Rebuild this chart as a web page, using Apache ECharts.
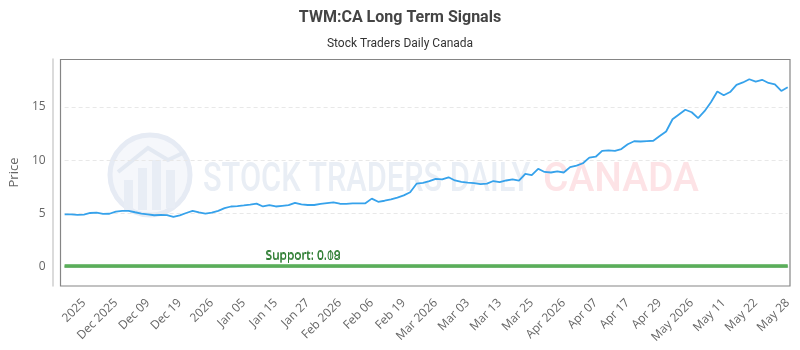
<!DOCTYPE html>
<html>
<head>
<meta charset="utf-8">
<script src="https://cdn.jsdelivr.net/npm/echarts@6/dist/echarts.min.js"></script>
<style>
  html, body { margin: 0; padding: 0; background: #fff; }
  #chart { width: 800px; height: 350px; }
</style>
</head>
<body>
<div id="chart"></div>
<script>

// closing prices, one per trading day
var prices = [
    4.93, 4.92, 4.88, 4.90, 5.05, 5.08, 4.97, 4.98, 5.18, 5.25,
    5.25, 5.12, 5.00, 4.92, 4.84, 4.87, 4.85, 4.68, 4.82, 5.05,
    5.25, 5.10, 5.00, 5.08, 5.25, 5.50, 5.66, 5.70, 5.76, 5.84,
    5.93, 5.66, 5.80, 5.66, 5.72, 5.78, 6.00, 5.85, 5.80, 5.80,
    5.90, 5.98, 6.05, 5.92, 5.90, 5.96, 5.96, 5.96, 6.40, 6.10,
    6.20, 6.32, 6.50, 6.70, 7.00, 7.80, 7.88, 8.05, 8.25, 8.20,
    8.40, 8.10, 7.97, 7.90, 7.86, 7.76, 7.80, 8.05, 7.95, 8.10,
    8.20, 8.08, 8.72, 8.60, 9.20, 8.90, 8.85, 8.95, 8.85, 9.35,
    9.50, 9.72, 10.25, 10.33, 10.88, 10.92, 10.88, 11.05, 11.50, 11.78,
    11.76, 11.80, 11.83, 12.27, 12.70, 13.85, 14.30, 14.74, 14.50, 13.95,
    14.60, 15.45, 16.45, 16.10, 16.40, 17.08, 17.30, 17.60, 17.38, 17.55,
    17.25, 17.13, 16.50, 16.85
];

// x tick labels and the index of the day they sit on
var tickIdx = [3, 8, 13, 18, 23, 28, 33, 38, 43, 48, 53, 58, 63, 68, 73, 78, 83, 88, 93, 98, 103, 108, 113];
var tickLabels = ['2025', 'Dec 2025', 'Dec 09', 'Dec 19', '2026', 'Jan 05', 'Jan 15', 'Jan 27',
    'Feb 2026', 'Feb 06', 'Feb 19', 'Mar 2026', 'Mar 03', 'Mar 13', 'Mar 25', 'Apr 2026',
    'Apr 07', 'Apr 17', 'Apr 29', 'May 2026', 'May 11', 'May 22', 'May 28'];

var yTicks = [0, 5, 10, 15];
var supports = [0.08, 0.19];

var categories = prices.map(function (v, i) {
    var k = tickIdx.indexOf(i);
    return k >= 0 ? tickLabels[k] : '';
});

var myChart = echarts.init(document.getElementById('chart'));

var font = 'Open Sans';

option = {
    animation: false,
    title: [{
        left: 'center',
        top: 5,
        text: 'TWM:CA Long Term Signals',
        textStyle: { fontFamily: 'Roboto', fontSize: 16, fontWeight: 'bold', color: '#444' }
    }, {
        left: 'center',
        top: 33,
        text: 'Stock Traders Daily Canada',
        textStyle: { fontFamily: 'Roboto', fontSize: 12, fontWeight: 'normal', color: '#333' }
    }],
    grid: { left: 62, right: 12.3, top: 59, bottom: 64 },
    graphic: [
        // watermark logo
        { type: 'circle', shape: { cx: 150, cy: 175, r: 40 }, z: -10,
          style: { fill: '#f5f7fb', stroke: '#e6ebf4', lineWidth: 5 } },
        { type: 'rect', shape: { x: 124, y: 180, width: 9, height: 30 }, z: -9, style: { fill: '#e8edf5' } },
        { type: 'rect', shape: { x: 138, y: 168, width: 9, height: 42 }, z: -9, style: { fill: '#e8edf5' } },
        { type: 'rect', shape: { x: 152, y: 160, width: 9, height: 50 }, z: -9, style: { fill: '#e8edf5' } },
        { type: 'rect', shape: { x: 166, y: 170, width: 9, height: 38 }, z: -9, style: { fill: '#e8edf5' } },
        { type: 'polyline', shape: { points: [[118, 172], [148, 148], [168, 160], [185, 152]] }, z: -9,
          style: { stroke: '#e3e9f2', lineWidth: 4, fill: null } },
        { type: 'text', x: 203, y: 160, z: -9, scaleX: 0.75,
          style: { text: 'STOCK TRADERS DAILY', fontFamily: 'Roboto', fontSize: 41, fontWeight: 500, fill: '#e9eef5' } },
        { type: 'text', x: 543, y: 160, z: -9, scaleX: 0.95,
          style: { text: 'CANADA', fontFamily: 'Roboto', fontSize: 41, fontWeight: 500, fill: '#fde3e6' } },
        // plot border
        { type: 'rect', shape: { x: 60.5, y: 59.5, width: 729.5, height: 226.5 }, z: 5,
          style: { fill: null, stroke: '#858585', lineWidth: 1.2 } }
    ],
    xAxis: {
        type: 'category',
        data: categories,
        boundaryGap: false,
        offset: 10,
        axisLine: { lineStyle: { color: '#cfcfcf', width: 1.5 } },
        axisTick: { show: false },
        axisLabel: {
            interval: function (index) { return tickIdx.indexOf(index) >= 0; },
            rotate: 45,
            margin: 5,
            fontFamily: font,
            fontSize: 12,
            color: '#666'
        },
        splitLine: { show: false }
    },
    yAxis: {
        type: 'value',
        min: -1.8,
        max: 19.5,
        offset: 12,
        name: 'Price',
        nameLocation: 'middle',
        nameGap: 22,
        nameTextStyle: { fontFamily: font, fontSize: 13, color: '#666' },
        axisLine: { show: true, lineStyle: { color: '#cfcfcf', width: 1.5 } },
        axisTick: { show: false, customValues: yTicks },
        axisLabel: { customValues: yTicks, fontFamily: font, fontSize: 12, color: '#666', margin: 7 },
        splitLine: { show: true, lineStyle: { color: '#e8e8e8', type: [4, 3] } }
    },
    series: [{
        type: 'line',
        data: prices,
        showSymbol: false,
        lineStyle: { color: '#36a2eb', width: 1.8 },
        markLine: {
            symbol: 'none',
            silent: true,
            lineStyle: { color: 'rgba(80,170,80,0.75)', width: 3, type: 'solid' },
            label: {
                position: 'insideStartTop',
                distance: [201, 3],
                fontFamily: font,
                fontSize: 12,
                color: '#2e7d32',
                formatter: function (p) { return 'Support: ' + p.value; }
            },
            data: supports.map(function (v) { return { yAxis: v }; })
        }
    }]
};

myChart.setOption(option);
</script>
</body>
</html>
